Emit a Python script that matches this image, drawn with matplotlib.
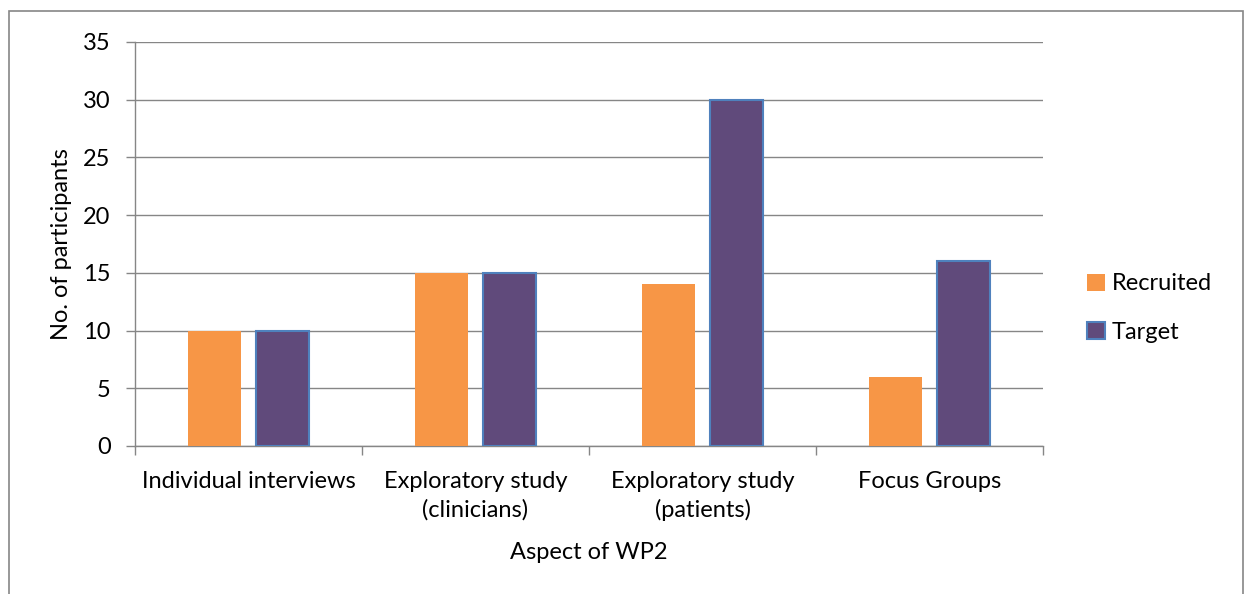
import numpy as np
import matplotlib.pyplot as plt
from matplotlib.patches import Rectangle, Patch

categories = ["Individual interviews", "Exploratory study\n(clinicians)",
              "Exploratory study\n(patients)", "Focus Groups"]
recruited = [10, 15, 14, 6]
target = [10, 15, 30, 16]

plt.rcParams['font.family'] = ['Lato', 'DejaVu Sans']
gray = '#868686'
fs = 17

fig = plt.figure(figsize=(12.46, 5.94), dpi=100)
ax = fig.add_axes([135/1246, 1-446/594, 908/1246, 404/594])

x = np.arange(len(categories))
w = 0.233
ax.bar(x - 0.15, recruited, w, color='#F79646', label='Recruited', zorder=3)
ax.bar(x + 0.15, target, w, color='#604A7B', edgecolor='#4F81BD', linewidth=1.5,
       label='Target', zorder=3)

ax.set_xlim(-0.5, 3.5)
ax.set_ylim(0, 35)
ax.set_yticks(range(0, 36, 5))
ax.yaxis.grid(True, color=gray, linewidth=1, zorder=0)
ax.set_xticks(np.arange(-0.5, 4, 1))
ax.set_xticklabels([])
ax.set_xticks(x, minor=True)
ax.set_xticklabels(categories, minor=True, fontsize=fs, linespacing=1.4)
ax.tick_params(axis='x', which='minor', length=0, pad=18)
ax.tick_params(axis='x', which='major', length=6.5, color=gray, width=1)
ax.tick_params(axis='y', length=6.5, color=gray, width=1, labelsize=fs, pad=11)
for s in ['top', 'right']:
    ax.spines[s].set_visible(False)
for s in ['left', 'bottom']:
    ax.spines[s].set_color(gray)
    ax.spines[s].set_linewidth(1)

ax.set_ylabel("No. of participants", fontsize=fs, labelpad=8)
ax.set_xlabel("Aspect of WP2", fontsize=fs, labelpad=15)

handles = [Patch(facecolor='#F79646', label='Recruited'),
           Patch(facecolor='#604A7B', edgecolor='#4F81BD', linewidth=1.5, label='Target')]
fig.legend(handles=handles, loc='center left', bbox_to_anchor=(1066/1246, 1-308/594),
           frameon=False, fontsize=fs, handlelength=0.75, handleheight=0.75,
           handletextpad=0.3, labelspacing=1.15)

fig.patches.append(Rectangle((9/1246, -0.02), 1234/1246, 1.02-11/594, transform=fig.transFigure,
                             fill=False, edgecolor=gray, linewidth=1.2))

fig.savefig('out.png', dpi=100)
